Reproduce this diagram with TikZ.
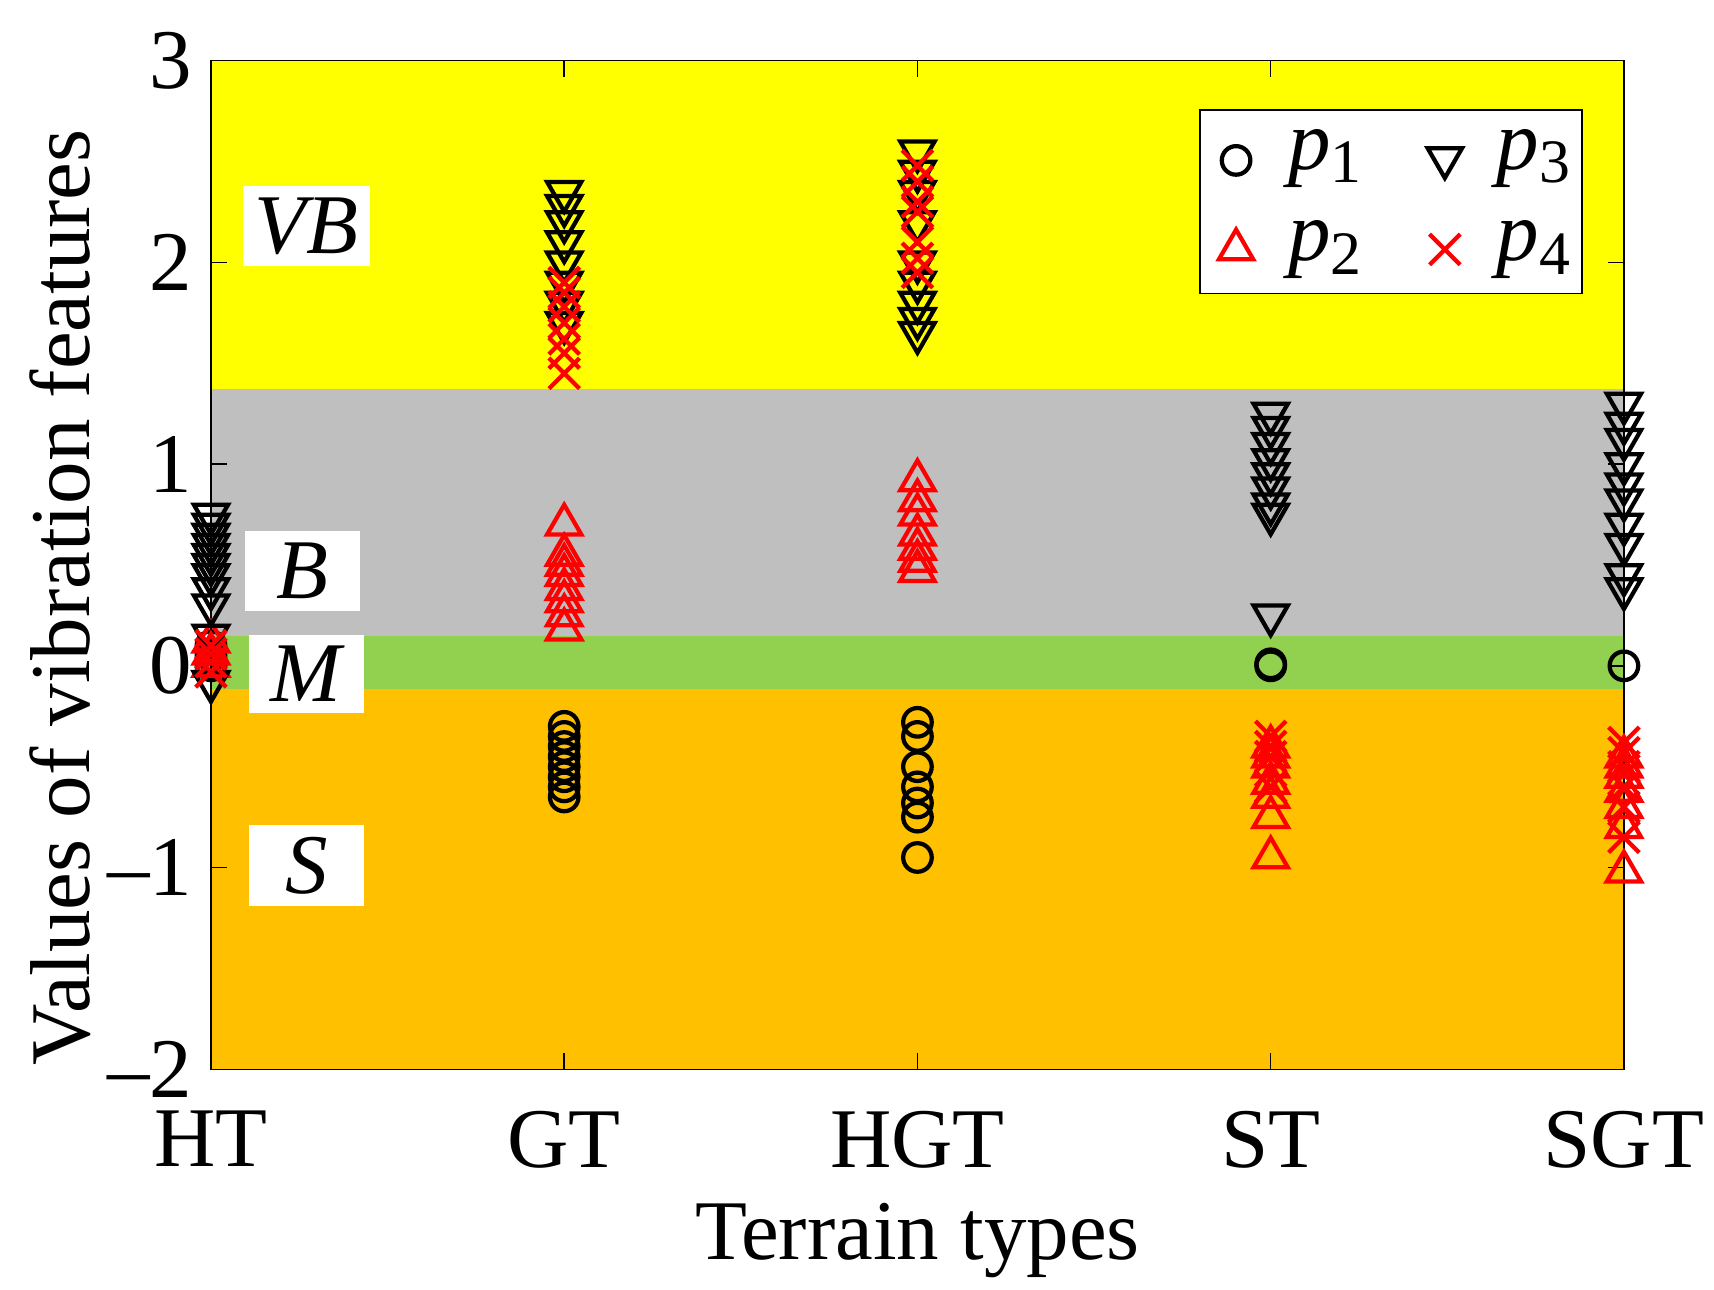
\documentclass[tikz,border=0pt]{standalone}
\usepackage{fontspec}
\setmainfont{Liberation Serif}
\usetikzlibrary{shapes.geometric,shapes.misc}
\newcommand{\pvar}[1]{\textit{p}\raisebox{-0.35ex}{\fontsize{16}{16}\selectfont #1}}
\begin{document}
\begin{tikzpicture}[
  mk/.style={draw, line width=1.1pt, inner sep=0pt, fill=none},
  pone/.style={mk, circle, minimum size=0.26cm},
  ptwo/.style={mk, red, regular polygon, regular polygon sides=3, minimum size=0.36cm},
  pthree/.style={mk, regular polygon, regular polygon sides=3, shape border rotate=180, minimum size=0.36cm},
  pfour/.style={mk, red, cross out, minimum size=0.24cm},
  zone/.style={fill=white, inner sep=3pt, minimum width=1.05cm, font=\fontsize{22}{22}\selectfont\itshape},
  ticklbl/.style={font=\fontsize{22}{22}\selectfont},
]
\definecolor{zvb}{RGB}{255,255,0}
\definecolor{zb}{RGB}{191,191,191}
\definecolor{zm}{RGB}{146,208,80}
\definecolor{zs}{RGB}{255,192,0}
\useasboundingbox (0,0) rectangle (15.6,11.74);

\begin{scope}[shift={(-1.295,5.68)}, x=3.215cm, y=1.836cm]
% bands
\fill [zvb] (1,1.37) rectangle (5,3);
\fill [zb] (1,0.15) rectangle (5,1.37);
\fill [zm] (1,-0.115) rectangle (5,0.15);
\fill [zs] (1,-2) rectangle (5,-0.115);

% ticks
\foreach \v in {-2,...,3} {
  \draw (1,\v) -- ++(0.045,0);
  \draw (5,\v) -- ++(-0.045,0);
}
\foreach \v in {0,...,3}
  \node [ticklbl, anchor=east] at (0.985,\v) {\v};
\node [ticklbl, anchor=east] at (0.985,-1) {\textendash1};
\node [ticklbl, anchor=east] at (0.985,-2) {\textendash2};
\foreach \c/\t in {1/HT,2/GT,3/HGT,4/ST,5/SGT} {
  \draw (\c,-2) -- ++(0,0.08);
  \draw (\c,3) -- ++(0,-0.08);
  \node [ticklbl, anchor=north] at (\c,-2.14) {\t};
}
\draw (1,-2) rectangle (5,3);

% zone labels
\node [zone] at (1.27,2.18) {VB};
\node [zone] at (1.26,0.47) {B};
\node [zone] at (1.27,-0.04) {M};
\node [zone] at (1.27,-0.99) {S};

% HT
\foreach \v in {0.0,0.05,0.1} \node [pone] at (1,\v) {};
\foreach \v in {0.0,0.06,0.12} \node [ptwo] at (1,\v) {};
\foreach \v in {-0.08,0.15,0.3,0.38,0.45,0.5,0.55,0.6,0.65,0.7,0.75} \node [pthree] at (1,\v) {};
\foreach \v in {-0.03,0.02,0.06,0.1} \node [pfour] at (1,\v) {};
% GT
\foreach \v in {-0.65,-0.6,-0.55,-0.5,-0.45,-0.4,-0.35,-0.3} \node [pone] at (2,\v) {};
\foreach \v in {0.18,0.25,0.32,0.38,0.45,0.5,0.55,0.7} \node [ptwo] at (2,\v) {};
\foreach \v in {1.7,1.8,1.9,2.0,2.1,2.2,2.28,2.35} \node [pthree] at (2,\v) {};
\foreach \v in {1.45,1.55,1.62,1.7,1.78,1.85,1.9} \node [pfour] at (2,\v) {};
% HGT
\foreach \v in {-0.95,-0.75,-0.68,-0.6,-0.5,-0.35,-0.28} \node [pone] at (3,\v) {};
\foreach \v in {0.47,0.52,0.58,0.65,0.75,0.82,0.92} \node [ptwo] at (3,\v) {};
\foreach \v in {1.65,1.72,1.8,1.9,2.0,2.2,2.35,2.45,2.55} \node [pthree] at (3,\v) {};
\foreach \v in {1.95,2.02,2.1,2.25,2.3,2.4,2.48} \node [pfour] at (3,\v) {};
% ST
\foreach \v in {0.0,0.01} \node [pone] at (4,\v) {};
\foreach \v in {-0.95,-0.75,-0.65,-0.58,-0.5,-0.45,-0.4} \node [ptwo] at (4,\v) {};
\foreach \v in {0.25,0.75,0.8,0.88,0.95,1.02,1.1,1.18,1.25} \node [pthree] at (4,\v) {};
\foreach \v in {-0.6,-0.52,-0.45,-0.4,-0.35} \node [pfour] at (4,\v) {};
% SGT
\node [pone] at (5,0) {};
\foreach \v in {-1.02,-0.8,-0.7,-0.62,-0.55,-0.5,-0.45} \node [ptwo] at (5,\v) {};
\foreach \v in {0.38,0.45,0.6,0.7,0.82,0.9,1.0,1.12,1.2,1.3} \node [pthree] at (5,\v) {};
\foreach \v in {-0.85,-0.7,-0.6,-0.5,-0.43,-0.38} \node [pfour] at (5,\v) {};
\end{scope}

% legend
\draw [fill=white] (10.92,9.07) rectangle (14.40,10.74);
\node [pone] (l1) at (11.25,10.28) {};
\node [ptwo] (l2) at (11.25,9.47) {};
\node [pthree] (l3) at (13.15,10.3) {};
\node [pfour] (l4) at (13.15,9.47) {};
\node [ticklbl, anchor=west] at (11.6,10.3) {\pvar{1}};
\node [ticklbl, anchor=west] at (11.6,9.47) {\pvar{2}};
\node [ticklbl, anchor=west] at (13.5,10.3) {\pvar{3}};
\node [ticklbl, anchor=west] at (13.5,9.47) {\pvar{4}};

% axis labels
\node [ticklbl, rotate=90] at (0.55,6.3) {Values of vibration features};
\node [ticklbl] at (8.35,0.45) {Terrain types};
\end{tikzpicture}
\end{document}
